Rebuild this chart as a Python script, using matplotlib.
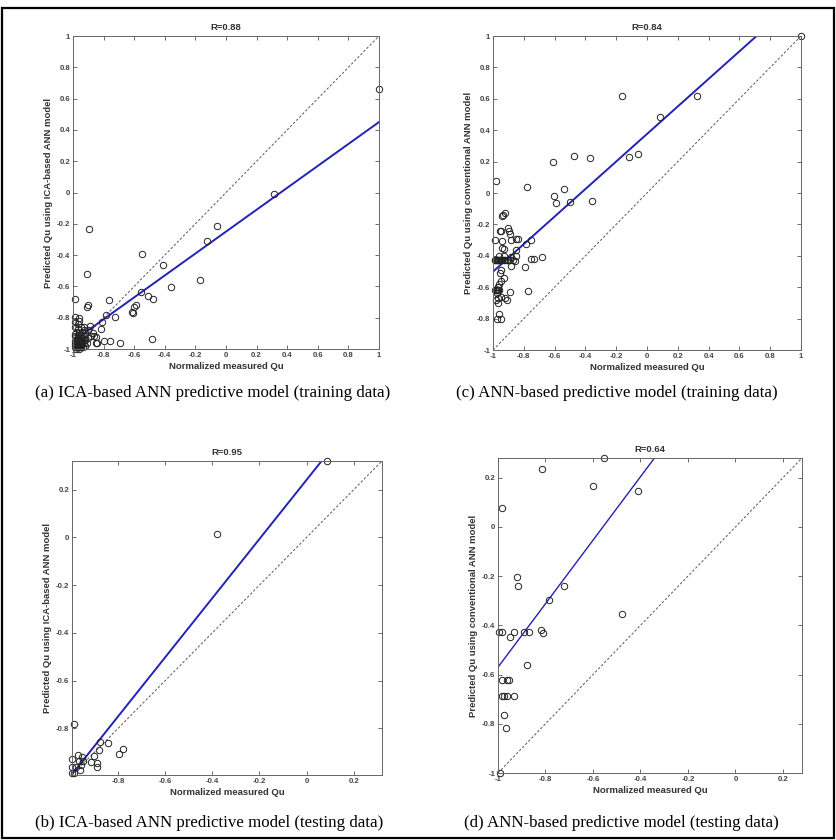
import numpy as np
import matplotlib
matplotlib.use("Agg")
import matplotlib.pyplot as plt
from matplotlib.patches import Rectangle
from matplotlib.ticker import FuncFormatter, MultipleLocator

plt.rcParams['font.family'] = ['Liberation Sans', 'DejaVu Sans']
plt.rcParams['axes.unicode_minus'] = False

# ---- (a) ICA-based ANN, training data ----
a_meas = [1.0, 0.316, -0.061, -0.124, -0.17, -0.36, -0.414, -0.547, -0.893, -0.911,
          -0.557, -0.508, -0.48, -0.59, -0.6, -0.61, -0.617, -0.765, -0.91, -0.903,
          -0.99, -0.482, -0.693, -0.758, -0.8, -0.84, -0.784, -0.725, -0.81, -0.82,
          -0.85, -0.85, -0.89, -0.987, -0.987, -0.93, -0.9, -0.96, -0.93, -0.87,
          -0.88, -0.86,
          -0.99, -0.98, -0.97, -0.96, -0.95, -0.98, -0.97, -0.96, -0.95, -0.94,
          -0.99, -0.98, -0.97, -0.96, -0.95, -0.94, -0.93, -0.92, -0.99, -0.97,
          -0.96, -0.95, -0.93, -0.92, -0.98, -0.94, -0.975, -0.965, -0.955, -0.945,
          -0.985, -0.975, -0.965, -0.955, -0.945, -0.935, -0.93, -0.91, -0.90, -0.92,
          -0.985, -0.96, -0.97, -0.95, -0.99, -0.97, -0.96]
a_pred = [0.66, -0.008, -0.212, -0.308, -0.56, -0.606, -0.461, -0.393, -0.235, -0.523,
          -0.634, -0.66, -0.683, -0.72, -0.73, -0.772, -0.762, -0.69, -0.73, -0.722,
          -0.683, -0.938, -0.96, -0.947, -0.947, -0.96, -0.783, -0.794, -0.826, -0.875,
          -0.925, -0.96, -0.85, -0.795, -0.83, -0.88, -0.88, -0.80, -0.86, -0.9,
          -0.92, -0.92,
          -0.99, -1.0, -0.99, -1.0, -0.99, -0.97, -0.96, -0.97, -0.96, -0.97,
          -0.95, -0.94, -0.93, -0.94, -0.93, -0.95, -0.96, -0.94, -0.92, -0.91,
          -0.90, -0.91, -0.92, -0.90, -0.89, -0.89, -0.985, -0.975, -0.985, -0.975,
          -0.965, -0.955, -0.945, -0.955, -0.945, -0.985, -0.94, -0.96, -0.93, -0.98,
          -0.905, -0.92, -0.87, -0.86, -0.86, -0.84, -0.82]
a_fit = (0.70, -0.25)       # slope, intercept

# ---- (c) conventional ANN, training data ----
c_meas = [1.0, 0.323, 0.087, -0.164, -0.056, -0.119, -0.372, -0.474, -0.61, -0.98,
          -0.777, -0.539, -0.602, -0.593, -0.5, -0.355, -0.933, -0.925, -0.94, -0.9,
          -0.895, -0.89, -0.95, -0.955, -0.99, -0.94, -0.88, -0.85, -0.84, -0.755,
          -0.786, -0.85, -0.94, -0.93, -0.85, -0.885, -0.75, -0.735, -0.684, -0.794,
          -0.95, -0.955, -0.93,
          -0.99, -0.985, -0.98, -0.975, -0.97, -0.965, -0.96, -0.955, -0.95, -0.945,
          -0.94, -0.93, -0.92, -0.91, -0.90, -0.89, -0.87,
          -0.96, -0.93, -0.88, -0.86,
          -0.77, -0.89, -0.97, -0.965, -0.975, -0.97, -0.92, -0.91, -0.96, -0.95,
          -0.96, -0.975, -0.945,
          -0.985, -0.98, -0.975, -0.97, -0.965, -0.96, -0.97, -0.98, -0.95]
c_pred = [1.0, 0.618, 0.482, 0.62, 0.248, 0.227, 0.221, 0.236, 0.195, 0.078,
          0.04, 0.024, -0.017, -0.064, -0.055, -0.051, -0.14, -0.13, -0.145, -0.225,
          -0.24, -0.26, -0.24, -0.245, -0.3, -0.305, -0.3, -0.29, -0.295, -0.3,
          -0.324, -0.36, -0.35, -0.355, -0.40, -0.465, -0.42, -0.42, -0.405, -0.473,
          -0.49, -0.51, -0.54,
          -0.427, -0.427, -0.427, -0.427, -0.427, -0.427, -0.427, -0.427, -0.427, -0.427,
          -0.427, -0.427, -0.427, -0.427, -0.427, -0.427, -0.427,
          -0.40, -0.40, -0.41, -0.43,
          -0.622, -0.63, -0.6, -0.6, -0.64, -0.7, -0.67, -0.68, -0.58, -0.56,
          -0.772, -0.8, -0.8,
          -0.62, -0.62, -0.62, -0.62, -0.62, -0.62, -0.67, -0.68, -0.66]
c_fit = (0.877, 0.376)

# ---- (b) ICA-based ANN, testing data ----
b_meas = [0.086, -0.379, -0.985, -0.842, -0.878, -0.881, -0.902, -0.914, -0.887, -0.888,
          -0.797, -0.778, -0.971, -0.952, -0.995, -0.995, -0.995, -0.964, -0.957, -0.978,
          -0.96, -0.985, -0.95]
b_pred = [0.32, 0.016, -0.78, -0.862, -0.858, -0.89, -0.914, -0.942, -0.946, -0.963,
          -0.907, -0.885, -0.911, -0.918, -0.928, -0.963, -0.985, -0.935, -0.952, -0.96,
          -0.973, -0.988, -0.935]
b_fit = (1.239, 0.241)

# ---- (d) conventional ANN, testing data ----
d_meas = [-0.555, -0.816, -0.6, -0.41, -0.983, -0.92, -0.917, -0.784, -0.72, -0.477,
          -0.995, -0.985, -0.933, -0.89, -0.87, -0.95, -0.819, -0.81, -0.876, -0.983,
          -0.96, -0.952, -0.983, -0.976, -0.962, -0.933, -0.976, -0.968, -0.99]
d_pred = [0.28, 0.234, 0.166, 0.147, 0.078, -0.204, -0.242, -0.295, -0.24, -0.355,
          -0.429, -0.429, -0.429, -0.429, -0.429, -0.446, -0.42, -0.43, -0.56, -0.623,
          -0.623, -0.623, -0.687, -0.687, -0.687, -0.687, -0.766, -0.819, -1.0]
d_fit = (1.29, 0.72)

LABEL_ICA = 'Predicted Qu using ICA-based ANN model'
LABEL_ANN = 'Predicted Qu using conventional ANN model'


def fmt(v, pos):
    return '%g' % round(v, 2)


def scatter_panel(fig, rect, meas, pred, fit, lims, r_text, ylabel, lw=1.4):
    ax = fig.add_axes(rect)
    lo, hi = lims
    xs = np.array([lo, hi])
    ax.plot(xs, xs, color='#555555', linestyle=(0, (2.5, 2)), linewidth=0.7)
    ax.plot(xs, fit[0] * xs + fit[1], color='#2222b4', linewidth=lw)
    ax.plot(meas, pred, 'o', mfc='none', mec='#222222', ms=4.6, mew=0.7,
            clip_on=False)
    ax.set_xlim(lo, hi)
    ax.set_ylim(lo, hi)
    ax.xaxis.set_major_locator(MultipleLocator(0.2))
    ax.yaxis.set_major_locator(MultipleLocator(0.2))
    ax.xaxis.set_major_formatter(FuncFormatter(fmt))
    ax.yaxis.set_major_formatter(FuncFormatter(fmt))
    ax.tick_params(direction='in', top=True, right=True, length=3, width=0.6,
                   color='#555555', labelsize=5.6, labelcolor='#444444', pad=2)
    for lab in ax.get_xticklabels() + ax.get_yticklabels():
        lab.set_fontweight('bold')
    for s in ax.spines.values():
        s.set_color('#666666')
        s.set_linewidth(0.7)
    ax.set_title(r_text, fontsize=6.8, fontweight='bold', color='#333333', pad=4)
    ax.set_xlabel('Normalized measured Qu', fontsize=6.8, fontweight='bold',
                  color='#333333', labelpad=2)
    ax.set_ylabel(ylabel, fontsize=6.8, fontweight='bold', color='#333333',
                  labelpad=3)
    return ax


fig = plt.figure(figsize=(8.37, 8.4), dpi=100)
W, H = 837.0, 840.0


def rect(x0, y0, x1, y1):
    return [x0 / W, 1 - y1 / H, (x1 - x0) / W, (y1 - y0) / H]


scatter_panel(fig, rect(73, 36, 379, 349), a_meas, a_pred, a_fit, (-1, 1),
              'R=0.88', LABEL_ICA)
scatter_panel(fig, rect(493, 36, 801, 350), c_meas, c_pred, c_fit, (-1, 1),
              'R=0.84', LABEL_ANN)
scatter_panel(fig, rect(72, 461, 382, 775), b_meas, b_pred, b_fit, (-0.995, 0.32),
              'R=0.95', LABEL_ICA)
scatter_panel(fig, rect(498, 458, 802, 773), d_meas, d_pred, d_fit, (-1, 0.28),
              'R=0.64', LABEL_ANN, lw=1.0)

cap = dict(fontsize=12.2, family=['Liberation Serif', 'DejaVu Serif'], va='center')
fig.text(35 / W, 1 - 393 / H, '(a) ICA-based ANN predictive model (training data)', **cap)
fig.text(456 / W, 1 - 393 / H, '(c) ANN-based predictive model (training data)', **cap)
fig.text(35 / W, 1 - 823 / H, '(b) ICA-based ANN predictive model (testing data)', **cap)
fig.text(464 / W, 1 - 823 / H, '(d) ANN-based predictive model (testing data)', **cap)

# outer frame
fig.patches.append(Rectangle((2 / W, 1 - 838 / H), 832 / W, 830 / H,
                             transform=fig.transFigure, fill=False,
                             edgecolor='black', linewidth=1.6))

fig.savefig('out.png', dpi=100)
